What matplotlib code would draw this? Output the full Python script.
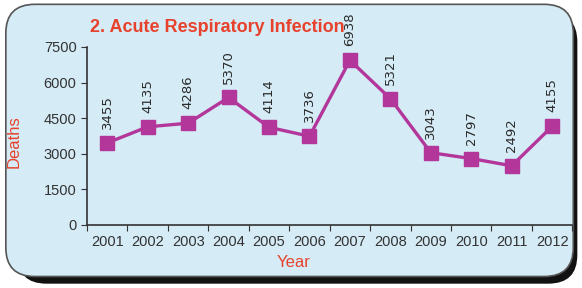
import matplotlib
matplotlib.use("Agg")
from matplotlib import pyplot as plt
from matplotlib.patches import FancyBboxPatch

years = ["2001", "2002", "2003", "2004", "2005", "2006",
         "2007", "2008", "2009", "2010", "2011", "2012"]
deaths = [3455, 4135, 4286, 5370, 4114, 3736, 6938, 5321, 3043, 2797, 2492, 4155]
yticks = [0, 1500, 3000, 4500, 6000, 7500]

bg = "#d5ebf6"
red = "#e8412c"
line_col = "#b3379b"

plt.rcParams["font.family"] = ["Liberation Sans", "DejaVu Sans"]

fig = plt.figure(figsize=(5.82, 2.88), dpi=100)
fig.patch.set_facecolor("white")

# shadow + rounded panel
shadow = FancyBboxPatch((0.03, 0.015), 0.962, 0.94,
                        boxstyle="round,pad=0,rounding_size=0.05",
                        transform=fig.transFigure, facecolor="#111111",
                        edgecolor="none", mutation_aspect=2.0, zorder=-2)
panel = FancyBboxPatch((0.01, 0.04), 0.975, 0.945,
                       boxstyle="round,pad=0,rounding_size=0.05",
                       transform=fig.transFigure, facecolor=bg,
                       edgecolor="#555555", linewidth=1.2, mutation_aspect=2.0,
                       zorder=-1)
fig.patches.extend([shadow, panel])

ax = fig.add_axes([0.1495, 0.219, 0.834, 0.618])
ax.set_facecolor("none")
x = list(range(len(years)))
ax.plot(x, deaths, color=line_col, linewidth=2.4, marker="s",
        markersize=9.5, markerfacecolor=line_col, markeredgecolor=line_col)

for xi, v in zip(x, deaths):
    ax.annotate(str(v), (xi, v), xytext=(0, 10), textcoords="offset points",
                rotation=90, ha="center", va="bottom", fontsize=9.5,
                color="#2a2a2a", family="Liberation Sans Narrow")

ax.set_xlim(-0.5, len(years) - 0.5)
ax.set_ylim(0, 7500)
ax.set_yticks(yticks)
ax.set_yticklabels([str(t) for t in yticks])
ax.set_xticks([i - 0.5 for i in range(len(years) + 1)], minor=False)
ax.set_xticklabels([])
ax.set_xticks(x, minor=True)
ax.set_xticklabels(years, minor=True)
ax.tick_params(axis="x", which="minor", length=0, pad=7)
ax.tick_params(axis="x", which="major", length=4, direction="out")
ax.tick_params(axis="y", length=4, direction="out")
ax.tick_params(labelsize=10.5, colors="#333333")
ax.tick_params(axis="x", which="minor", labelsize=10.5, labelcolor="#333333")

for s in ["top", "right"]:
    ax.spines[s].set_visible(False)
for s in ["left", "bottom"]:
    ax.spines[s].set_color("#333333")
    ax.spines[s].set_linewidth(1.2)

ax.set_xlabel("Year", color=red, fontsize=12)
ax.set_ylabel("Deaths", color=red, fontsize=12)
ax.xaxis.set_label_coords(0.425, -0.17)
ax.yaxis.set_label_coords(-0.135, 0.47)

fig.text(0.155, 0.905, "2. Acute Respiratory Infection", color=red,
         fontsize=13, fontweight="bold", ha="left", va="center")

fig.savefig("out.png", dpi=100)
